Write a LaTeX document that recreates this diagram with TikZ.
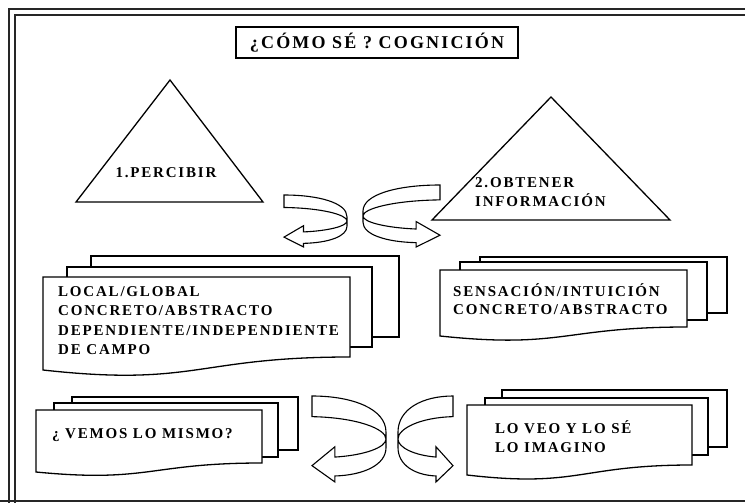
\documentclass[tikz,border=0pt]{standalone}
\usepackage{fontspec}
\setmainfont{Liberation Serif}
\newfontfamily\boxfont[LetterSpace=12]{Liberation Serif}
\usetikzlibrary{positioning}

\begin{document}
\begin{tikzpicture}[x=1pt,y=-1pt,line join=miter]
       \tikzset{frame/.style={line width=1.6pt, black!85}}

       \tikzset{sheet/.style={draw, fill=white, line width=1.3pt}}

       \tikzset{label/.style={font=\boxfont\bfseries\fontsize{15}{19.3}\selectfont,
                align=left, inner sep=0pt}}

       \tikzset{curl/.pic={
          \draw[sheet, line width=1.1pt] (0,0) .. controls (0.55,0) and (1,0.15) .. (1,0.42)
             -- (1,0.6) .. controls (1,0.8) and (0.7,0.92) .. (0.31,0.93)
             -- (0.31,1) -- (0,0.81) -- (0.31,0.59) -- (0.31,0.71)
             .. controls (0.7,0.69) and (1,0.6) .. (1,0.5)
             .. controls (1,0.38) and (0.6,0.25) .. (0,0.24) -- cycle;}}

        \useasboundingbox (0,0) rectangle (745,503);
        \clip (0,0) rectangle (745,503);

        % marco doble
        \draw[frame] (760,9) -- (9,9) -- (9,520);
        \draw[frame, line width=1.2pt] (760,15) -- (15,15) -- (15,520);
        \draw[frame, line width=1.2pt] (0,501) -- (760,501);

        \node[draw, line width=1.2pt, minimum width=282, minimum height=31,
              font=\boxfont\bfseries\fontsize{18}{20}\selectfont] (titulo) at (377,42.5) {¿CÓMO SÉ ? COGNICIÓN};

        % triangulos
        \draw[sheet] (170,80) -- (263,202) -- (76,202) -- cycle;
        \node[label] (percibir) at (166,173) {1.PERCIBIR};
        \draw[sheet] (551,97) -- (670,220) -- (432,220) -- cycle;
        \node[label, anchor=west] (obtener) at (475,192) {2.OBTENER\\INFORMACIÓN};

        % flechas curvas
        \pic[xscale=63, yscale=52] (giroA) at (284,195) {curl};
        \pic[xscale=-77, yscale=62] (giroB) at (440,185) {curl};
        \pic[xscale=74, yscale=86] (giroC) at (312,396) {curl};
        \pic[xscale=-55, yscale=86] (giroD) at (453,396) {curl};

        % documentos
        \draw[sheet] (91,256) rectangle (399,337);
        \draw[sheet] (67,267) rectangle (372,347);
        \draw[sheet] (43,277) -- (350,277) -- (350,357) .. controls (196,357) and (196,387) .. (43,370) -- cycle;
        \node[label, anchor=north west] (campo) at (58,286.5) {LOCAL/GLOBAL\\CONCRETO/ABSTRACTO\\DEPENDIENTE/INDEPENDIENTE\\DE CAMPO};

        \draw[sheet] (480,257) rectangle (727,313);
        \draw[sheet] (460,262) rectangle (707,320);
        \draw[sheet] (440,270) -- (687,270) -- (687,327) .. controls (563,327) and (563,349) .. (440,336) -- cycle;
        \node[label, anchor=north west, font=\boxfont\bfseries\fontsize{15}{18}\selectfont] (sensacion) at (453,283.5) {SENSACIÓN/INTUICIÓN\\CONCRETO/ABSTRACTO};

        \draw[sheet] (72,397) rectangle (298,450);
        \draw[sheet] (54,403) rectangle (278,457);
        \draw[sheet] (36,410) -- (262,410) -- (262,463) .. controls (149,463) and (149,483) .. (36,472) -- cycle;
        \node[label, anchor=north west] (mismo) at (52,428.5) {¿ VEMOS LO MISMO?};

        \draw[sheet] (502,390) rectangle (727,447);
        \draw[sheet] (485,398) rectangle (708,455);
        \draw[sheet] (467,405) -- (692,405) -- (692,465) .. controls (579,465) and (579,488) .. (467,475) -- cycle;
        \node[label, anchor=north west] (imagino) at (495,420.5) {LO VEO Y LO SÉ\\LO IMAGINO};

\end{tikzpicture}
\end{document}
